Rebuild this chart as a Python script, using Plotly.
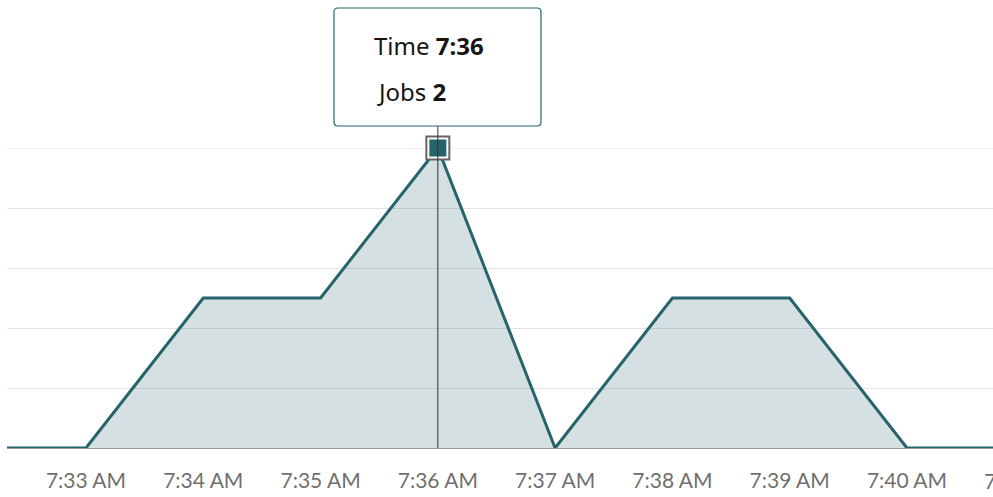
import plotly.graph_objects as go
import pandas as pd

# Jobs running per minute
times = ["07:32", "07:33", "07:34", "07:35", "07:36", "07:37", "07:38", "07:39", "07:40", "07:41"]
jobs = [0, 0, 1, 1, 2, 0, 1, 1, 0, 0]
tick_times = ["07:33", "07:34", "07:35", "07:36", "07:37", "07:38", "07:39", "07:40"]
tick_text = ["7:33 AM", "7:34 AM", "7:35 AM", "7:36 AM", "7:37 AM", "7:38 AM", "7:39 AM", "7:40 AM"]
edge_time = "07:41"
edge_label = "7:41 AM"
hover_time = "07:36"
hover_jobs = 2

day = "2024-01-01 "
x = pd.to_datetime([day + t for t in times])
ticks = pd.to_datetime([day + t for t in tick_times])
hx = pd.to_datetime(day + hover_time)
x_range = [pd.Timestamp(day + "07:32:19.6"), pd.Timestamp(day + "07:40:44")]

LINE = "#27636b"
FILL = "rgba(39,99,107,0.2)"
TICK_FONT = "Lato"
TIP_FONT = "Noto Sans"
TICK_COLOR = "#6f6f6f"

fig = go.Figure()

# Area
fig.add_trace(go.Scatter(
    x=x, y=jobs, mode="lines", line=dict(color=LINE, width=3),
    fill="tozeroy", fillcolor=FILL, hoverinfo="skip", cliponaxis=True,
))

# Hover marker: grey frame, white ring, teal square
fig.add_trace(go.Scatter(
    x=[hx], y=[hover_jobs], mode="markers", cliponaxis=False,
    marker=dict(symbol="square", size=23, color="#ffffff",
                line=dict(color="#666666", width=2)),
    hoverinfo="skip",
))
fig.add_trace(go.Scatter(
    x=[hx], y=[hover_jobs], mode="markers", cliponaxis=False,
    marker=dict(symbol="square", size=17, color=LINE, line=dict(width=0)),
    hoverinfo="skip",
))

W, H = 993, 497
ml, mr, mt, mb = 7, 0, 148, 49
pw = W - ml - mr
ph = H - mt - mb


def px_to_paper_x(px):
    return (px - ml) / pw


def py_to_paper_y(py):
    return (H - mb - py) / ph


# Tooltip box with rounded corners
x0, x1 = px_to_paper_x(334), px_to_paper_x(541)
y0, y1 = py_to_paper_y(126), py_to_paper_y(8)
rx, ry = 4 / pw, 4 / ph
path = (f"M {x0+rx},{y0} L {x1-rx},{y0} Q {x1},{y0} {x1},{y0+ry} "
        f"L {x1},{y1-ry} Q {x1},{y1} {x1-rx},{y1} L {x0+rx},{y1} "
        f"Q {x0},{y1} {x0},{y1-ry} L {x0},{y0+ry} Q {x0},{y0} {x0+rx},{y0} Z")

shapes = [
    # top gridline at the maximum
    dict(type="line", xref="paper", yref="y", x0=0, x1=1, y0=2, y1=2,
         line=dict(color="#e4e4e4", width=1), layer="below"),
    # crosshair
    dict(type="line", xref="x", yref="paper", x0=hx, x1=hx,
         y0=0, y1=py_to_paper_y(126), line=dict(color="#333333", width=1), layer="above"),
    dict(type="path", xref="paper", yref="paper", path=path,
         fillcolor="#ffffff", line=dict(color=LINE, width=1.2), layer="above"),
]

annotations = [
    dict(xref="paper", yref="paper", x=px_to_paper_x(372), y=py_to_paper_y(46),
         xanchor="left", yanchor="middle", showarrow=False,
         text=f"Time <b>{hover_time.lstrip('0')}</b>",
         font=dict(family=TIP_FONT, size=24, color="#161513")),
    dict(xref="paper", yref="paper", x=px_to_paper_x(375), y=py_to_paper_y(91),
         xanchor="left", yanchor="middle", showarrow=False,
         text=f"Jobs <b>{hover_jobs}</b>",
         font=dict(family=TIP_FONT, size=24, color="#161513")),
]

# Next minute label, partly past the right edge
span = (x_range[1] - x_range[0]).total_seconds()
edge_x = (pd.to_datetime(day + edge_time) - x_range[0]).total_seconds() / span
annotations.append(dict(
    xref="paper", yref="paper", x=edge_x, y=py_to_paper_y(480),
    xanchor="center", yanchor="middle", showarrow=False, text=edge_label,
    font=dict(family=TICK_FONT, size=21, color=TICK_COLOR)))

fig.update_layout(
    width=W, height=H,
    margin=dict(l=ml, r=mr, t=mt, b=mb, pad=0),
    paper_bgcolor="#ffffff", plot_bgcolor="#ffffff",
    showlegend=False,
    shapes=shapes, annotations=annotations,
    xaxis=dict(range=x_range, tickvals=ticks, ticktext=tick_text,
               showgrid=False, zeroline=False, showline=True,
               linecolor="#9a9a9a", linewidth=1,
               ticks="outside", ticklen=14, tickcolor="rgba(0,0,0,0)",
               tickfont=dict(family=TICK_FONT, size=21, color=TICK_COLOR)),
    yaxis=dict(range=[0, 2], dtick=0.4, showticklabels=False,
               showgrid=True, gridcolor="#e4e4e4", gridwidth=1,
               zeroline=False, showline=False),
)

fig.write_html("out.html")
